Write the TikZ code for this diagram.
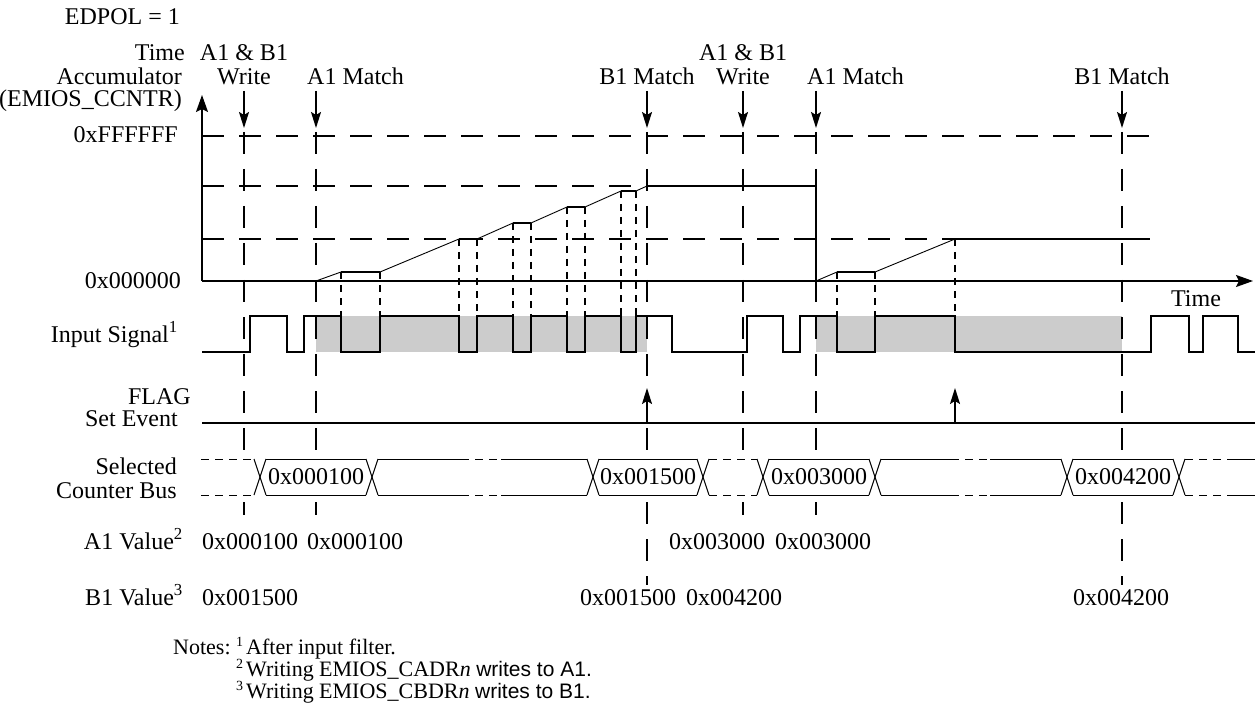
\documentclass[tikz,border=0pt]{standalone}
\usepackage{fontspec}
\setmainfont{Liberation Serif}
\newfontfamily\sansf{Liberation Sans}
\usetikzlibrary{arrows.meta}
\begin{document}
\begin{tikzpicture}[x=1pt,y=-1pt,
  thickline/.style={line width=1.8pt},
  thinline/.style={line width=0.9pt},
  longdash/.style={line width=1.8pt, dash pattern=on 22pt off 15pt},
  shortdash/.style={line width=1.8pt, dash pattern=on 7pt off 6pt},
  busline/.style={line width=1pt},
  busdash/.style={line width=1pt, dash pattern=on 8pt off 6pt},
  lbl/.style={font=\fontsize{24}{26}\selectfont, inner sep=0pt},
  notelbl/.style={font=\fontsize{22}{23}\selectfont, inner sep=0pt},
  notesup/.style={font=\fontsize{14}{15}\selectfont, inner sep=0pt},
  evarrow/.style={line width=1.5pt, -{Stealth[length=16pt,width=10pt,inset=3pt]}},
  axisarrow/.style={line width=1.8pt, -{Stealth[length=17pt,width=12pt,inset=3pt]}},
]
\useasboundingbox (0,0) rectangle (1255,719);

% ---------- gray shading of input signal ----------
\fill[black!20] (316,316) rectangle (647,352);
\fill[black!20] (816,316) rectangle (1122,352);

% ---------- left labels ----------
\node[lbl, anchor=base east] (edpol) at (180,25) {EDPOL = 1};
\node[lbl, anchor=base east] (ltime) at (185,61) {Time};
\node[lbl, anchor=base east] (lacc) at (182,85) {Accumulator};
\node[lbl, anchor=base east] (lccntr) at (182,107) {(EMIOS\_CCNTR)};
\node[lbl, anchor=base east] (lmax) at (178,143) {0xFFFFFF};
\node[lbl, anchor=base east] (lzero) at (181,288) {0x000000};
\node[lbl, anchor=base east] (linput) at (178,342) {Input Signal\textsuperscript{1}};
\node[lbl, anchor=base east] (lflag) at (191,404) {FLAG};
\node[lbl, anchor=base east] (lset) at (178,426) {Set Event};
\node[lbl, anchor=base east] (lsel) at (177,474) {Selected};
\node[lbl, anchor=base east] (lcnt) at (177,498) {Counter Bus};
\node[lbl, anchor=base east] (la1) at (183,549) {A1 Value\textsuperscript{2}};
\node[lbl, anchor=base east] (lb1) at (183,605) {B1 Value\textsuperscript{3}};

% ---------- event labels on top ----------
\node[lbl, anchor=base] (ab1) at (244,61) {A1 \& B1};
\node[lbl, anchor=base] (w1) at (244,85) {Write};
\node[lbl, anchor=base west] (am1) at (307,85) {A1 Match};
\node[lbl, anchor=base] (bm1) at (647,85) {B1 Match};
\node[lbl, anchor=base] (ab2) at (743,61) {A1 \& B1};
\node[lbl, anchor=base] (w2) at (743,85) {Write};
\node[lbl, anchor=base west] (am2) at (807,85) {A1 Match};
\node[lbl, anchor=base] (bm2) at (1122,85) {B1 Match};

% ---------- event arrows ----------
\foreach \x/\n in {244/e1, 316/e2, 647/e3, 743/e4, 816/e5, 1122/e6}{
  \coordinate (\n s) at (\x,91);
  \coordinate (\n t) at (\x,128);
  \draw[evarrow] (\n s) -- (\n t);
}

% ---------- long dashed verticals ----------
\foreach \x/\y in {244/515, 316/515, 647/585, 743/515, 816/515, 1122/585}{
  \coordinate (vt\x) at (\x,132);
  \coordinate (vb\x) at (\x,\y);
  \draw[longdash] (vt\x) -- (vb\x);
}

% ---------- long dashed horizontal levels ----------
\coordinate (o) at (202,281);
\coordinate (hmaxa) at (202,136); \coordinate (hmaxb) at (1150,136);
\coordinate (h2a) at (202,186); \coordinate (h2b) at (647,186);
\coordinate (h3a) at (202,239); \coordinate (h3b) at (955,239);
\draw[longdash] (hmaxa) -- (hmaxb);
\draw[longdash] (h2a) -- (h2b);
\draw[longdash] (h3a) -- (h3b);

% ---------- short dashed verticals at ramp break points ----------
\foreach \x/\y in {341/272, 380/272, 459/239, 477/239, 513/223, 531/223,
                   567/207, 585/207, 621/191, 636/191, 837/272, 875/272, 955/239}{
  \coordinate (sa\x) at (\x,\y);
  \coordinate (sb\x) at (\x,316);
  \draw[shortdash] (sa\x) -- (sb\x);
}

% ---------- axes ----------
\coordinate (ytop) at (202,95);
\coordinate (xend) at (1253,281);
\draw[axisarrow] (o) -- (ytop);
\draw[axisarrow] (o) -- (xend);
\node[lbl, anchor=base] (ltimeaxis) at (1196,306) {Time};

% ---------- time accumulator curve ----------
\draw[thinline] (316,281) -- (341,272) -- (380,272) -- (459,239) -- (477,239)
  -- (513,223) -- (531,223) -- (567,207) -- (585,207) -- (621,191) -- (636,191)
  -- (647,186);
\draw[thinline] (816,281) -- (837,272) -- (875,272) -- (955,239);
\draw[thickline] (341,272) -- (380,272);
\draw[thickline] (459,239) -- (477,239);
\draw[thickline] (513,223) -- (531,223);
\draw[thickline] (567,207) -- (585,207);
\draw[thickline] (621,191) -- (636,191);
\draw[thickline] (647,186) -- (816,186) -- (816,281);
\draw[thickline] (837,272) -- (875,272);
\draw[thickline] (955,239) -- (1150,239);

% ---------- input signal ----------
\draw[thickline, line join=miter] (202,352) -- (250,352) -- (250,316) -- (287,316) -- (287,352)
  -- (304,352) -- (304,316) -- (341,316) -- (341,352) -- (380,352) -- (380,316)
  -- (459,316) -- (459,352) -- (477,352) -- (477,316) -- (513,316) -- (513,352)
  -- (531,352) -- (531,316) -- (567,316) -- (567,352) -- (585,352) -- (585,316)
  -- (621,316) -- (621,352) -- (636,352) -- (636,316) -- (672,316) -- (672,352)
  -- (747,352) -- (747,316) -- (783,316) -- (783,352) -- (800,352) -- (800,316)
  -- (837,316) -- (837,352) -- (875,352) -- (875,316) -- (955,316) -- (955,352)
  -- (1151,352) -- (1151,316) -- (1189,316) -- (1189,352) -- (1203,352)
  -- (1203,316) -- (1238,316) -- (1238,352) -- (1255,352);

% ---------- FLAG set event ----------
\coordinate (fa) at (202,423); \coordinate (fb) at (1255,423);
\draw[thickline] (fa) -- (fb);
\foreach \x in {647,955}{
  \coordinate (fs\x) at (\x,423);
  \coordinate (ft\x) at (\x,388);
  \draw[evarrow] (fs\x) -- (ft\x);
}

% ---------- selected counter bus ----------
\fill[white] (201,460) rectangle (1255,494);
\foreach \a/\b in {266/366, 378/461, 501/587, 599/697, 769/869, 881/951,
                   990/1061, 1073/1173, 1235/1255}{
  \draw[busline] (\a,459) -- (\b,459);
  \draw[busline] (\a,495) -- (\b,495);
}
\foreach \a/\b in {201/254, 461/501, 709/757, 951/990, 1185/1235}{
  \draw[busdash] (\a,459) -- (\b,459);
  \draw[busdash] (\a,495) -- (\b,495);
}
\foreach \a in {254, 366, 587, 697, 757, 869, 1061, 1173}{
  \draw[busline] (\a,459) -- (\a+12,495);
  \draw[busline] (\a,495) -- (\a+12,459);
}
\node[lbl] (bus1) at (316,477) {0x000100};
\node[lbl] (bus2) at (648,477) {0x001500};
\node[lbl] (bus3) at (819,477) {0x003000};
\node[lbl] (bus4) at (1123,477) {0x004200};

% ---------- A1 / B1 values ----------
\node[lbl, anchor=base west] (a1v1) at (202,549) {0x000100};
\node[lbl, anchor=base west] (a1v2) at (307,549) {0x000100};
\node[lbl, anchor=base west] (a1v3) at (669,549) {0x003000};
\node[lbl, anchor=base west] (a1v4) at (775,549) {0x003000};
\node[lbl, anchor=base west] (b1v1) at (202,605) {0x001500};
\node[lbl, anchor=base west] (b1v2) at (580,605) {0x001500};
\node[lbl, anchor=base west] (b1v3) at (686,605) {0x004200};
\node[lbl, anchor=base west] (b1v4) at (1073,605) {0x004200};

% ---------- notes ----------
\node[notelbl, anchor=base west] (notes) at (173,654) {Notes:};
\node[notesup, anchor=base west] (s1) at (236,646) {1};
\node[notelbl, anchor=base west] (n1) at (246,654) {After input filter.};
\node[notesup, anchor=base west] (s2) at (236,668) {2};
\node[notelbl, anchor=base west] (n2) at (246,676) {Writing EMIOS\_CADR\textit{n} {\sansf\fontsize{21}{23}\selectfont writes to A1.}};
\node[notesup, anchor=base west] (s3) at (236,690) {3};
\node[notelbl, anchor=base west] (n3) at (246,698) {Writing EMIOS\_CBDR\textit{n} {\sansf\fontsize{21}{23}\selectfont writes to B1.}};
\end{tikzpicture}
\end{document}
